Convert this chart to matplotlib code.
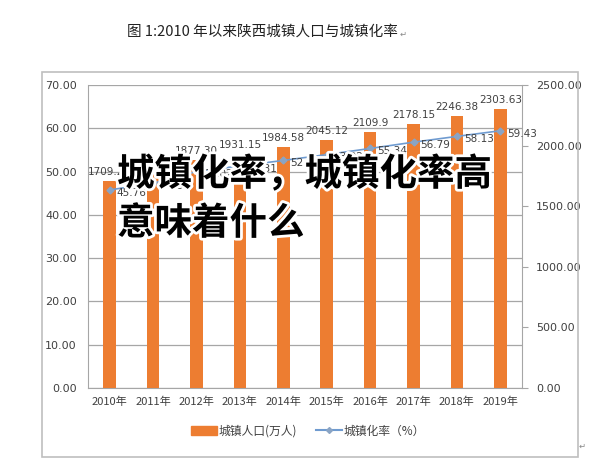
import numpy as np
import matplotlib.pyplot as plt
import matplotlib.patheffects as pe
from matplotlib.patches import Rectangle
from matplotlib.lines import Line2D

plt.rcParams['font.family'] = ['Noto Sans CJK SC', 'DejaVu Sans']

years = ['2010年', '2011年', '2012年', '2013年', '2014年',
         '2015年', '2016年', '2017年', '2018年', '2019年']
pop_labels = ['1709.21', '1770.22', '1877.30', '1931.15', '1984.58',
              '2045.12', '2109.9', '2178.15', '2246.38', '2303.63']
rate_labels = ['45.76', '47.30', '50.02', '51.31', '52.57',
               '53.92', '55.34', '56.79', '58.13', '59.43']
population = [float(s) for s in pop_labels]
rate = [float(s) for s in rate_labels]

bar_color = '#ED7D31'
line_color = '#6F9BD0'
txt_color = '#404040'

fig = plt.figure(figsize=(6, 4.61), dpi=100)

# chart frame
fig.patches.append(Rectangle((42 / 600, 1 - 457 / 461), 536 / 600, 385 / 461,
                             transform=fig.transFigure, fill=False,
                             edgecolor='#BFBFBF', linewidth=1.2))

fig.text(127 / 600, 1 - 32 / 461, '图 1:2010 年以来陕西城镇人口与城镇化率',
         ha='left', va='center', fontsize=10.5, color='#222222')
fig.text(400 / 600, 1 - 34 / 461, '↵', ha='left', va='center', fontsize=6,
         color='#888888', family=['DejaVu Sans'])
fig.text(0.965, 1 - 446 / 461, '↵', ha='left', va='center', fontsize=6,
         color='#888888', family=['DejaVu Sans'])

ax1 = fig.add_axes([88 / 600, 1 - 388 / 461, 434 / 600, 303 / 461])
ax2 = ax1.twinx()

x = np.arange(len(years))

# bars on the right axis
ax2.bar(x, population, width=0.29, color=bar_color, zorder=2)
ax2.set_ylim(0, 2500)
ax2.set_yticks(np.arange(0, 2501, 500))
ax2.set_yticklabels(['%.2f' % v for v in np.arange(0, 2501, 500)])
for xi, v, s in zip(x, population, pop_labels):
    ax2.annotate(s, (xi, v), xytext=(0, 3), textcoords='offset points',
                 ha='center', va='bottom', fontsize=7.5, color=txt_color,
                 family=['DejaVu Sans'])

# line belongs to the left axis, drawn via ax2 so it sits above the bars
rate_scaled = np.array(rate) * 2500 / 70
ax2.plot(x, rate_scaled, color=line_color, linewidth=1.2, marker='D',
         markersize=3.5, markerfacecolor='#8AA4C4', markeredgecolor='#8AA4C4',
         zorder=3)
for xi, v, s in zip(x, rate_scaled, rate_labels):
    ax2.annotate(s, (xi, v), xytext=(5, -2), textcoords='offset points',
                 ha='left', va='center', fontsize=7.5, color=txt_color,
                 family=['DejaVu Sans'])

ax1.set_ylim(0, 70)
ax1.set_yticks(np.arange(0, 71, 10))
ax1.set_yticklabels(['%.2f' % v for v in np.arange(0, 71, 10)])
ax1.set_xlim(-0.5, len(years) - 0.5)
ax1.set_xticks(x)
ax1.set_xticklabels(years)
ax1.grid(axis='y', color='#A6A6A6', linewidth=0.9)
ax1.set_axisbelow(True)

for a in (ax1, ax2):
    for sp in a.spines.values():
        sp.set_visible(False)
ax1.spines['left'].set_visible(True)
ax1.spines['left'].set_color('#A6A6A6')
ax1.spines['bottom'].set_visible(True)
ax1.spines['bottom'].set_color('#A6A6A6')
ax2.spines['right'].set_visible(True)
ax2.spines['right'].set_color('#A6A6A6')

ax1.tick_params(axis='y', length=0, pad=8, labelsize=8, labelcolor=txt_color)
ax1.tick_params(axis='x', length=0, pad=6, labelsize=8, labelcolor=txt_color)
ax2.tick_params(axis='y', length=4, color='#A6A6A6', pad=6, labelsize=8,
                labelcolor=txt_color)
for lab in ax1.get_yticklabels() + ax2.get_yticklabels():
    lab.set_family(['DejaVu Sans'])

handles = [Rectangle((0, 0), 1, 1, color=bar_color),
           Line2D([0], [0], color=line_color, marker='D', markersize=3,
                  markerfacecolor='#8AA4C4', markeredgecolor='#8AA4C4')]
fig.legend(handles, ['城镇人口(万人)', '城镇化率（%）'], loc='center',
           bbox_to_anchor=(308 / 600, 1 - 431 / 461), ncol=2, frameon=False,
           fontsize=8.5, handlelength=2.2, handleheight=0.7, columnspacing=1.6,
           handletextpad=0.1, labelcolor=txt_color)

# overlay headline
stroke = [pe.withStroke(linewidth=4, foreground='white')]
fig.text(117 / 600, 1 - 174 / 461, '城镇化率，城镇化率高', ha='left',
         va='center', fontsize=27, fontweight='black', color='black',
         path_effects=stroke, zorder=10)
fig.text(117 / 600, 1 - 223 / 461, '意味着什么', ha='left',
         va='center', fontsize=27, fontweight='black', color='black',
         path_effects=stroke, zorder=10)

fig.savefig('out.png', dpi=100)
